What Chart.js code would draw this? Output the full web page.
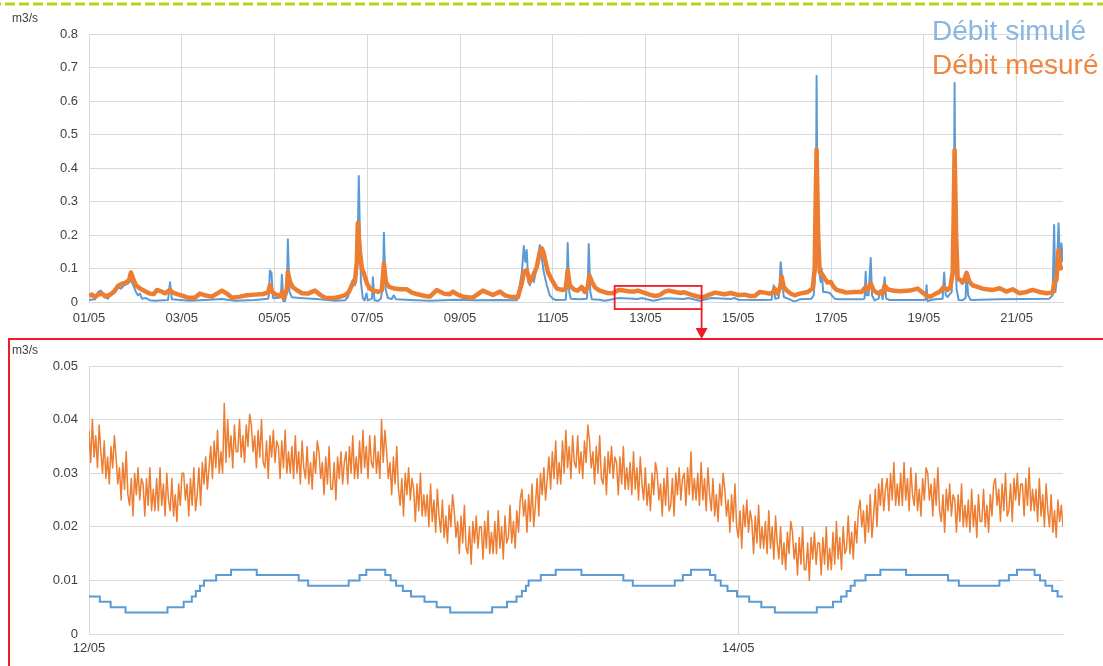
<!DOCTYPE html>
<html>
<head>
<meta charset="utf-8">
<title>Débit simulé / mesuré</title>
<script src="https://cdn.jsdelivr.net/npm/chart.js@4.4.1/dist/chart.umd.min.js"></script>
<style>
  html, body { margin: 0; padding: 0; background: #fff; }
  body { width: 1103px; height: 666px; position: relative; overflow: hidden; font-family: 'Liberation Sans', Arial, sans-serif; }
  #topChart { position: absolute; left: 0; top: 0; }
  #zoomChart { position: absolute; left: 0; top: 340px; }
  #zoomFrame { position: absolute; left: 8px; top: 338px; width: 1200px; height: 400px; border: 2px solid #ee1c24; pointer-events: none; }
  .unit { position: absolute; left: 12px; font-size: 12px; line-height: 12px; color: #404040; }
</style>
</head>
<body>
<canvas id="topChart" width="1103" height="340"></canvas>
<canvas id="zoomChart" width="1103" height="326"></canvas>
<div id="zoomFrame"></div>
<div class="unit" style="top:12px">m3/s</div>
<div class="unit" style="top:344px">m3/s</div>
<script>
// heures depuis le 01/05 00:00, débit en m3/s
const topTickHours = [0, 48, 96, 144, 192, 240, 288, 336, 384, 432, 480];
const zoomTickHours = [264, 312];

// débit simulé, vue générale [heure, m3/s]
const simTop = [
  [0, 0.006], [3.1, 0.008], [4.7, 0.03], [6.2, 0.034], [7.8, 0.015], [9.8, 0.01], [11.9, 0.03], [14.5, 0.045],
  [16.6, 0.04], [18.1, 0.05], [20.2, 0.055], [21.7, 0.065], [23.3, 0.045], [24.3, 0.03], [25.3, 0.02], [26.4, 0.025],
  [27.4, 0.01], [29.5, 0.012], [31.5, 0.005], [34.1, 0.004], [40.9, 0.006], [41.9, 0.059], [42.9, 0.008], [47.1, 0.006],
  [52.2, 0.004], [60, 0.006], [68.8, 0.009], [75.5, 0.004], [85.9, 0.006], [92.6, 0.01], [93.1, 0.02], [93.6, 0.094],
  [94.4, 0.088], [95.2, 0.012], [97.8, 0.012], [99.3, 0.015], [99.8, 0.081], [100.6, 0.002], [101.4, 0.003], [102.4, 0.03],
  [102.9, 0.187], [103.7, 0.03], [105, 0.014], [109.1, 0.012], [119.5, 0.008], [127.2, 0.004], [132.4, 0.005], [134, 0.015],
  [135, 0.035], [136, 0.06], [137.1, 0.07], [137.6, 0.05], [138.1, 0.07], [139.1, 0.2], [139.6, 0.376], [140.2, 0.2],
  [140.7, 0.06], [141.7, 0.01], [142.7, 0.005], [143.5, 0.025], [144.3, 0.005], [146.4, 0.01], [146.9, 0.074], [147.7, 0.005],
  [149.5, 0.003], [151, 0.01], [152.1, 0.05], [152.6, 0.207], [153.4, 0.04], [154.6, 0.012], [156.7, 0.009], [157.7, 0.02],
  [158.8, 0.008], [166, 0.006], [176.4, 0.004], [190, 0.007], [200, 0.005], [212.6, 0.006], [221.4, 0.005], [222.9, 0.05],
  [224, 0.09], [225, 0.167], [225.8, 0.12], [226.5, 0.155], [227.3, 0.06], [228.1, 0.05], [229.1, 0.07], [230.2, 0.06],
  [231.2, 0.09], [232.2, 0.13], [233.3, 0.17], [234.3, 0.13], [235.3, 0.09], [236.9, 0.05], [238.4, 0.02], [240, 0.01],
  [241.5, 0.006], [246.7, 0.007], [247.2, 0.05], [247.7, 0.176], [248.5, 0.03], [249.3, 0.01], [253.9, 0.008], [257.6, 0.01],
  [258.1, 0.05], [258.6, 0.173], [259.4, 0.03], [260.2, 0.008], [264, 0.007], [267, 0.004], [274, 0.012], [284, 0.009],
  [286, 0.012], [292, 0.004], [298, 0.011], [308, 0.009], [310, 0.012], [316, 0.004], [322, 0.012], [332, 0.009],
  [334, 0.012], [336, 0.007], [347, 0.006], [353.2, 0.007], [353.8, 0.03], [354.3, 0.05], [355.1, 0.01], [356.9, 0.012],
  [357.4, 0.06], [357.9, 0.119], [358.7, 0.07], [359.5, 0.015], [362.6, 0.008], [365.1, 0.001], [367.7, 0.008], [373.9, 0.01],
  [375, 0.02], [376, 0.1], [376.5, 0.675], [377, 0.2], [377.6, 0.1], [378.6, 0.06], [379.1, 0.1], [379.9, 0.03],
  [381.2, 0.03], [383.3, 0.027], [385.8, 0.01], [388.4, 0.008], [400.3, 0.008], [401.3, 0.01], [401.9, 0.09], [402.4, 0.02],
  [403.4, 0.02], [404.5, 0.131], [405.2, 0.02], [406.5, 0.005], [408.6, 0.01], [409.6, 0.036], [410.7, 0.008], [411.7, 0.074],
  [412.5, 0.01], [414.3, 0.006], [429.8, 0.006], [432.9, 0.007], [433.4, 0.05], [433.9, 0.003], [437.6, 0.008], [441.7, 0.01],
  [442.5, 0.088], [443.3, 0.02], [444.3, 0.015], [446.4, 0.03], [446.9, 0.117], [447.4, 0.08], [447.9, 0.654], [448.4, 0.2],
  [448.9, 0.04], [450, 0.006], [452, 0.005], [453.6, 0.012], [454.1, 0.09], [454.9, 0.02], [456.2, 0.006], [471.2, 0.008],
  [497, 0.01], [498.6, 0.02], [499.4, 0.23], [500.1, 0.03], [500.6, 0.06], [501.7, 0.235], [502.5, 0.1], [503.2, 0.175],
  [504, 0.12]
];

// débit mesuré, vue générale [heure, m3/s]
const mesTop = [
  [0, 0.019], [1.6, 0.022], [3.1, 0.015], [4.7, 0.022], [6.7, 0.025], [8.8, 0.017], [10.9, 0.022], [12.9, 0.03],
  [15, 0.048], [17.1, 0.055], [19.1, 0.058], [20.7, 0.065], [21.7, 0.088], [22.8, 0.07], [24.3, 0.05], [26.4, 0.04],
  [29, 0.032], [31.5, 0.025], [33.6, 0.024], [35.2, 0.036], [37.2, 0.032], [39.3, 0.026], [41.9, 0.036], [43.4, 0.028],
  [46, 0.023], [48.6, 0.018], [51.2, 0.013], [54.8, 0.013], [57.4, 0.025], [60, 0.02], [63.6, 0.016], [68.8, 0.034],
  [71.4, 0.025], [74, 0.013], [78.1, 0.016], [81.7, 0.02], [85.9, 0.022], [90, 0.024], [92.6, 0.028], [93.6, 0.05],
  [94.7, 0.03], [96.7, 0.022], [99.3, 0.018], [99.8, 0.03], [100.6, 0.012], [101.4, 0.02], [102.4, 0.04], [102.9, 0.09],
  [104, 0.06], [105.5, 0.044], [107.6, 0.035], [110.2, 0.026], [113.3, 0.025], [116.9, 0.034], [119.5, 0.022], [122.1, 0.013],
  [127.2, 0.012], [132.4, 0.02], [134.5, 0.03], [136, 0.05], [137.6, 0.06], [138.6, 0.12], [139.1, 0.236], [140.2, 0.15],
  [141.2, 0.1], [142.2, 0.086], [143.8, 0.056], [145.3, 0.04], [146.9, 0.035], [149.5, 0.03], [151.5, 0.035], [152.6, 0.115],
  [153.6, 0.06], [155.2, 0.045], [158.3, 0.04], [160.9, 0.038], [164.5, 0.038], [167.1, 0.028], [169.6, 0.024], [173.8, 0.018],
  [176.4, 0.016], [180, 0.036], [183.6, 0.025], [186.7, 0.023], [188.3, 0.031], [190.8, 0.022], [193.4, 0.016], [198.6, 0.013],
  [203.8, 0.034], [209, 0.021], [212.6, 0.031], [215.2, 0.02], [217.7, 0.016], [221.9, 0.014], [222.9, 0.035], [224, 0.056],
  [225, 0.09], [226.5, 0.095], [228.1, 0.06], [229.6, 0.076], [231.7, 0.105], [233.3, 0.15], [234.3, 0.16], [235.3, 0.145],
  [237.4, 0.09], [239.5, 0.066], [242.1, 0.04], [245.2, 0.036], [246.7, 0.04], [247.7, 0.095], [248.8, 0.05], [250.8, 0.038],
  [252.9, 0.034], [255, 0.045], [256.5, 0.03], [258.1, 0.045], [258.9, 0.08], [260.2, 0.06], [262, 0.042], [264, 0.035],
  [268, 0.027], [271, 0.026], [274, 0.036], [276, 0.035], [280, 0.031], [282, 0.031], [284, 0.034], [286, 0.03],
  [290, 0.022], [293, 0.018], [295, 0.02], [298, 0.031], [300, 0.034], [304, 0.029], [306, 0.027], [308, 0.029],
  [312, 0.021], [316, 0.015], [318, 0.015], [321, 0.022], [324, 0.028], [328, 0.024], [329, 0.023], [332, 0.027],
  [336, 0.021], [339.3, 0.022], [341.9, 0.018], [344.5, 0.018], [347, 0.03], [349.6, 0.028], [352.2, 0.025], [353.8, 0.028],
  [354.8, 0.04], [356.4, 0.025], [358, 0.05], [358.4, 0.076], [359.5, 0.045], [361, 0.035], [363.1, 0.025], [365.1, 0.02],
  [367.7, 0.025], [371.9, 0.03], [374.5, 0.041], [375.5, 0.1], [376, 0.3], [376.5, 0.455], [377.3, 0.2], [378.1, 0.09],
  [379.1, 0.085], [380.7, 0.07], [382.2, 0.058], [383.8, 0.06], [385.3, 0.045], [386.9, 0.036], [389.5, 0.032], [392, 0.028],
  [396.2, 0.03], [399.8, 0.03], [401.9, 0.045], [402.9, 0.035], [404.5, 0.056], [406, 0.035], [408.1, 0.026], [409.6, 0.03],
  [410.7, 0.025], [411.7, 0.05], [413.3, 0.038], [415.8, 0.034], [419.5, 0.032], [424.6, 0.034], [428.8, 0.04], [431.3, 0.028],
  [433.9, 0.018], [435.5, 0.016], [438.1, 0.025], [440.1, 0.03], [442.2, 0.044], [444.3, 0.036], [445.8, 0.045], [446.9, 0.09],
  [447.4, 0.25], [447.9, 0.454], [448.7, 0.2], [449.5, 0.07], [451, 0.065], [452, 0.058], [453.1, 0.07], [454.1, 0.087],
  [455.7, 0.06], [457.2, 0.05], [459.8, 0.045], [462.4, 0.04], [464.4, 0.038], [467.6, 0.036], [471.2, 0.041], [474.8, 0.031],
  [477.9, 0.038], [481.5, 0.026], [485.1, 0.03], [488.2, 0.036], [491.9, 0.03], [495.5, 0.026], [498.6, 0.028], [499.6, 0.06],
  [500.6, 0.066], [501.7, 0.155], [502.7, 0.1], [504, 0.105]
];

// débit simulé, zoom 12/05 - 15/05 : [heure du changement, nouveau palier]
const simZoom = [
  [264, 0.007], [264.8, 0.006], [265.6, 0.005], [266.7, 0.004], [269.8, 0.005], [271, 0.006], [271.6, 0.007], [271.9, 0.008],
  [272.2, 0.009], [272.5, 0.01], [273.4, 0.011], [274.5, 0.012], [276.4, 0.011], [279.5, 0.01], [280.2, 0.009], [283.2, 0.01],
  [284, 0.011], [284.5, 0.012], [285.9, 0.011], [286.3, 0.01], [286.7, 0.009], [287.2, 0.008], [287.8, 0.007], [288.8, 0.006],
  [289.7, 0.005], [290.7, 0.004], [293.8, 0.005], [294.9, 0.006], [295.6, 0.007], [296, 0.008], [296.3, 0.009], [296.5, 0.01],
  [297.4, 0.011], [298.5, 0.012], [300.4, 0.011], [303.5, 0.01], [304.2, 0.009], [307.3, 0.01], [307.9, 0.011], [308.5, 0.012],
  [309.9, 0.011], [310.3, 0.01], [310.7, 0.009], [311.2, 0.008], [311.9, 0.007], [312.8, 0.006], [313.7, 0.005], [314.7, 0.004],
  [317.8, 0.005], [319, 0.006], [319.6, 0.007], [320, 0.008], [320.3, 0.009], [320.6, 0.01], [321.4, 0.011], [322.5, 0.012],
  [324.4, 0.011], [327.5, 0.01], [328.3, 0.009], [331.3, 0.01], [332, 0.011], [332.6, 0.012], [333.9, 0.011], [334.3, 0.01],
  [334.7, 0.009], [335.2, 0.008], [335.6, 0.007], [336, 0.007]
];

// débit mesuré, zoom : un relevé toutes les 7,5 min depuis le 12/05 00:00 (une ligne = une heure)
const zoomStart = 264;
const zoomStep = 0.125;
const mesZoom = [
  0.038, 0.032, 0.040, 0.033, 0.037, 0.031, 0.039, 0.034,
  0.030, 0.036, 0.029, 0.033, 0.028, 0.035, 0.031, 0.037,
  0.033, 0.028, 0.031, 0.025, 0.032, 0.027, 0.034, 0.026,
  0.024, 0.029, 0.022, 0.030, 0.026, 0.031, 0.025, 0.029,
  0.028, 0.022, 0.029, 0.024, 0.031, 0.023, 0.027, 0.023,
  0.029, 0.023, 0.031, 0.024, 0.028, 0.022, 0.030, 0.025,
  0.023, 0.029, 0.022, 0.026, 0.021, 0.028, 0.024, 0.030,
  0.030, 0.025, 0.028, 0.022, 0.029, 0.024, 0.031, 0.023,
  0.026, 0.031, 0.024, 0.032, 0.028, 0.033, 0.027, 0.031,
  0.035, 0.029, 0.036, 0.031, 0.038, 0.030, 0.034, 0.030,
  0.043, 0.032, 0.040, 0.033, 0.037, 0.031, 0.039, 0.034,
  0.034, 0.040, 0.033, 0.037, 0.032, 0.039, 0.035, 0.041,
  0.039, 0.034, 0.037, 0.031, 0.038, 0.033, 0.040, 0.032,
  0.031, 0.036, 0.029, 0.037, 0.033, 0.038, 0.032, 0.036,
  0.035, 0.029, 0.036, 0.031, 0.038, 0.030, 0.034, 0.030,
  0.035, 0.029, 0.037, 0.030, 0.034, 0.028, 0.036, 0.031,
  0.029, 0.035, 0.028, 0.032, 0.027, 0.034, 0.030, 0.036,
  0.034, 0.029, 0.032, 0.026, 0.033, 0.028, 0.035, 0.027,
  0.027, 0.032, 0.025, 0.033, 0.029, 0.034, 0.028, 0.032,
  0.034, 0.028, 0.035, 0.030, 0.037, 0.029, 0.033, 0.029,
  0.036, 0.030, 0.038, 0.031, 0.035, 0.029, 0.037, 0.032,
  0.031, 0.037, 0.030, 0.034, 0.029, 0.040, 0.032, 0.038,
  0.034, 0.029, 0.032, 0.026, 0.033, 0.028, 0.035, 0.027,
  0.024, 0.029, 0.022, 0.030, 0.026, 0.031, 0.025, 0.029,
  0.027, 0.021, 0.028, 0.023, 0.030, 0.022, 0.026, 0.022,
  0.026, 0.020, 0.028, 0.021, 0.025, 0.019, 0.027, 0.022,
  0.019, 0.025, 0.018, 0.022, 0.017, 0.024, 0.020, 0.026,
  0.023, 0.018, 0.021, 0.015, 0.022, 0.017, 0.024, 0.016,
  0.015, 0.020, 0.013, 0.021, 0.017, 0.022, 0.016, 0.020,
  0.020, 0.014, 0.021, 0.016, 0.023, 0.015, 0.019, 0.015,
  0.021, 0.015, 0.023, 0.016, 0.020, 0.014, 0.022, 0.017,
  0.018, 0.024, 0.017, 0.021, 0.016, 0.023, 0.019, 0.025,
  0.027, 0.022, 0.025, 0.019, 0.026, 0.021, 0.028, 0.020,
  0.024, 0.029, 0.022, 0.030, 0.026, 0.031, 0.025, 0.029,
  0.033, 0.027, 0.034, 0.029, 0.036, 0.028, 0.032, 0.028,
  0.036, 0.030, 0.038, 0.031, 0.035, 0.029, 0.037, 0.032,
  0.031, 0.037, 0.030, 0.034, 0.029, 0.036, 0.032, 0.039,
  0.036, 0.031, 0.034, 0.028, 0.035, 0.030, 0.037, 0.029,
  0.028, 0.033, 0.026, 0.034, 0.030, 0.035, 0.029, 0.033,
  0.032, 0.026, 0.033, 0.028, 0.035, 0.027, 0.031, 0.027,
  0.032, 0.026, 0.034, 0.027, 0.031, 0.025, 0.033, 0.028,
  0.025, 0.031, 0.024, 0.028, 0.023, 0.030, 0.026, 0.032,
  0.030, 0.025, 0.028, 0.022, 0.029, 0.024, 0.031, 0.023,
  0.024, 0.029, 0.022, 0.030, 0.026, 0.031, 0.025, 0.029,
  0.030, 0.024, 0.031, 0.026, 0.034, 0.025, 0.029, 0.025,
  0.030, 0.024, 0.032, 0.025, 0.029, 0.023, 0.031, 0.026,
  0.023, 0.029, 0.022, 0.026, 0.021, 0.028, 0.024, 0.030,
  0.027, 0.022, 0.025, 0.019, 0.026, 0.021, 0.028, 0.020,
  0.018, 0.023, 0.016, 0.024, 0.020, 0.025, 0.019, 0.023,
  0.021, 0.015, 0.022, 0.017, 0.024, 0.016, 0.020, 0.016,
  0.021, 0.015, 0.023, 0.016, 0.020, 0.014, 0.022, 0.017,
  0.014, 0.020, 0.013, 0.017, 0.012, 0.019, 0.015, 0.021,
  0.019, 0.014, 0.017, 0.011, 0.018, 0.013, 0.020, 0.012,
  0.012, 0.017, 0.010, 0.018, 0.014, 0.019, 0.013, 0.017,
  0.017, 0.011, 0.018, 0.013, 0.020, 0.012, 0.016, 0.012,
  0.019, 0.013, 0.021, 0.014, 0.018, 0.012, 0.020, 0.015,
  0.016, 0.022, 0.015, 0.019, 0.014, 0.021, 0.017, 0.023,
  0.025, 0.020, 0.023, 0.017, 0.024, 0.019, 0.026, 0.018,
  0.022, 0.027, 0.020, 0.028, 0.024, 0.029, 0.023, 0.027,
  0.029, 0.023, 0.030, 0.025, 0.032, 0.024, 0.028, 0.024,
  0.030, 0.024, 0.032, 0.025, 0.029, 0.023, 0.031, 0.026,
  0.024, 0.030, 0.023, 0.027, 0.022, 0.029, 0.025, 0.031,
  0.030, 0.025, 0.028, 0.022, 0.029, 0.024, 0.031, 0.023,
  0.021, 0.026, 0.019, 0.027, 0.023, 0.028, 0.022, 0.026,
  0.025, 0.019, 0.026, 0.021, 0.028, 0.020, 0.024, 0.020,
  0.025, 0.019, 0.027, 0.020, 0.024, 0.018, 0.026, 0.021,
  0.021, 0.027, 0.020, 0.024, 0.019, 0.026, 0.022, 0.028,
  0.029, 0.024, 0.027, 0.021, 0.028, 0.023, 0.030, 0.022,
  0.023, 0.028, 0.021, 0.029, 0.025, 0.030, 0.024, 0.028,
  0.028, 0.022, 0.029, 0.024, 0.031, 0.023, 0.027, 0.023,
  0.027, 0.021, 0.029, 0.022, 0.026, 0.020, 0.028, 0.023,
  0.020, 0.026, 0.019, 0.023, 0.018, 0.025, 0.021, 0.024,
  0.020
];

const blue = '#5b9bd5';
const orange = '#ed7d31';
const gridGrey = '#d9d9d9';

Chart.defaults.font.family = "'Liberation Sans', Arial, sans-serif";
Chart.defaults.font.size = 13;
Chart.defaults.color = '#404040';

const fmtDay = h => String(Math.floor(h / 24) + 1).padStart(2, '0') + '/05';
const toPoints = pairs => pairs.map(p => ({ x: p[0], y: p[1] }));

function makeScales(xMin, xMax, tickList, xPad, xHeight, yMax, yStep, yRound) {
    return {
        x: {
            type: 'linear',
            min: xMin,
            max: xMax,
            grid: { color: gridGrey, drawTicks: false },
            border: { color: gridGrey },
            afterBuildTicks: axis => { axis.ticks = tickList.map(v => ({ value: v })); },
            afterFit: axis => { axis.height = xHeight; },
            ticks: { padding: xPad, maxRotation: 0, autoSkip: false, callback: v => fmtDay(v) }
        },
        y: {
            min: 0,
            max: yMax,
            grid: { color: gridGrey, drawTicks: false },
            border: { color: gridGrey },
            afterFit: axis => { axis.width = 60; },
            ticks: { stepSize: yStep, padding: 11, callback: v => String(Math.round(v * yRound) / yRound) }
        }
    };
}

// pointillé vert, légende en texte coloré, cadre rouge et flèche vers le zoom
const topMarks = {
    id: 'topMarks',
    afterDraw(chart) {
        const ctx = chart.ctx;
        const xs = chart.scales.x;
        const ys = chart.scales.y;
        ctx.save();

        ctx.strokeStyle = '#b2d71a';
        ctx.lineWidth = 3;
        ctx.setLineDash([10, 4]);
        ctx.beginPath();
        ctx.moveTo(-23, 4);
        ctx.lineTo(chart.width, 4);
        ctx.stroke();
        ctx.setLineDash([]);

        ctx.font = "28px 'Liberation Sans', Arial, sans-serif";
        ctx.textAlign = 'left';
        ctx.textBaseline = 'alphabetic';
        ctx.fillStyle = '#87b6e2';
        ctx.fillText('Débit simulé', 932, 40);
        ctx.fillStyle = '#ef8640';
        ctx.fillText('Débit mesuré', 932, 74);

        const x1 = xs.getPixelForValue(272);
        const x2 = xs.getPixelForValue(317);
        const y1 = ys.getPixelForValue(0.048);
        const y2 = ys.getPixelForValue(-0.021);
        ctx.strokeStyle = '#ee1c24';
        ctx.fillStyle = '#ee1c24';
        ctx.lineWidth = 1.8;
        ctx.strokeRect(x1, y1, x2 - x1, y2 - y1);
        ctx.beginPath();
        ctx.moveTo(x2, y2);
        ctx.lineTo(x2, 329);
        ctx.stroke();
        ctx.beginPath();
        ctx.moveTo(x2 - 6, 328);
        ctx.lineTo(x2 + 6, 328);
        ctx.lineTo(x2, 339);
        ctx.closePath();
        ctx.fill();
        ctx.restore();
    }
};

new Chart(document.getElementById('topChart'), {
    type: 'line',
    data: {
        datasets: [{
            label: 'Débit mesuré',
            data: toPoints(mesTop),
            borderColor: orange,
            borderWidth: 4.5,
            borderJoinStyle: 'round',
            pointRadius: 0,
            order: 0
        }, {
            label: 'Débit simulé',
            data: toPoints(simTop),
            borderColor: blue,
            borderWidth: 2,
            borderJoinStyle: 'round',
            pointRadius: 0,
            order: 1
        }]
    },
    options: {
        responsive: false,
        animation: false,
        events: [],
        layout: { padding: { left: 29, right: 40, top: 34, bottom: 0 } },
        scales: makeScales(0, 504, topTickHours, 9, 38, 0.8, 0.1, 100),
        plugins: { legend: { display: false }, tooltip: { enabled: false } }
    },
    plugins: [topMarks]
});

new Chart(document.getElementById('zoomChart'), {
    type: 'line',
    data: {
        datasets: [{
            label: 'Débit mesuré',
            data: mesZoom.map((v, i) => ({ x: zoomStart + i * zoomStep, y: v })),
            borderColor: orange,
            borderWidth: 1.5,
            borderJoinStyle: 'round',
            pointRadius: 0,
            order: 0
        }, {
            label: 'Débit simulé',
            data: toPoints(simZoom),
            borderColor: blue,
            borderWidth: 2,
            stepped: true,
            pointRadius: 0,
            order: 1
        }]
    },
    options: {
        responsive: false,
        animation: false,
        events: [],
        layout: { padding: { left: 29, right: 40, top: 26, bottom: 0 } },
        scales: makeScales(264, 336, zoomTickHours, 7, 32, 0.05, 0.01, 1000),
        plugins: { legend: { display: false }, tooltip: { enabled: false } }
    }
});
</script>
</body>
</html>
